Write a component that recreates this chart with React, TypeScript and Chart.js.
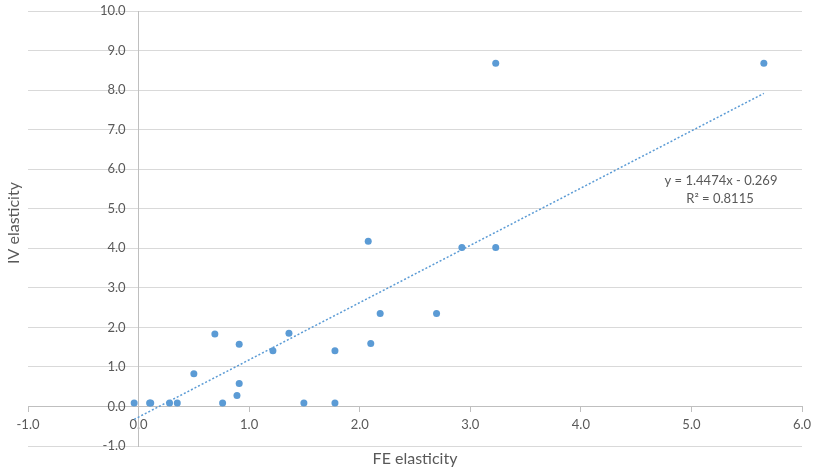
import React, { useEffect, useRef } from "react";
import { Chart, registerables } from "chart.js";

Chart.register(...registerables);

const feElasticity = [-0.04, 0.1, 0.11, 0.28, 0.35, 0.5, 0.69, 0.76, 0.89, 0.91, 0.91, 1.215, 1.36, 1.495, 1.776, 1.776, 2.077, 2.1, 2.185, 2.695, 2.924, 3.23, 3.23, 5.655];
const ivElasticity = [0.09, 0.09, 0.09, 0.09, 0.09, 0.83, 1.83, 0.09, 0.28, 1.57, 0.58, 1.41, 1.85, 0.09, 1.41, 0.09, 4.18, 1.59, 2.35, 2.35, 4.02, 4.02, 8.68, 8.68];

const trendSlope = 1.4474;
const trendIntercept = -0.269;
const trendEquation = "y = 1.4474x - 0.269";
const trendR2 = "R² = 0.8115";

const xTitle = "FE elasticity";
const yTitle = "IV elasticity";

const xRange = [-1, 6];
const yRange = [-1, 10];

const BLUE = "#5B9BD5";
const TEXT = "#595959";
const GRID = "#d9d9d9";
const AXIS = "#bfbfbf";
const FONT = "Lato, 'Open Sans', sans-serif";

export default function App() {
  const ref = useRef<HTMLCanvasElement>(null);

  useEffect(() => {
    if (!ref.current) return;
    const points = feElasticity.map((x, i) => ({ x, y: ivElasticity[i] }));
    const lo = Math.min(...feElasticity);
    const hi = Math.max(...feElasticity);
    const trend = [
      { x: lo, y: trendSlope * lo + trendIntercept },
      { x: hi, y: trendSlope * hi + trendIntercept },
    ];

    const overlay = {
      id: "overlay",
      afterDraw(chart: any) {
        const { ctx, chartArea } = chart;
        const xs = chart.scales.x;
        const ys = chart.scales.y;
        ctx.save();
        ctx.fillStyle = TEXT;
        ctx.font = `13px ${FONT}`;
        ctx.textAlign = "right";
        ctx.textBaseline = "middle";
        const x0 = xs.getPixelForValue(0);
        ys.ticks.forEach((t: any) => {
          ctx.fillText(Number(t.value).toFixed(1), x0 - 13, ys.getPixelForValue(t.value));
        });
        ctx.textAlign = "center";
        ctx.fillText(trendEquation, 721, 181);
        ctx.fillText(trendR2, 720, 199);
        ctx.font = `16px ${FONT}`;
        ctx.fillText(xTitle, (chartArea.left + chartArea.right) / 2, 459);
        ctx.translate(14, 223);
        ctx.rotate(-Math.PI / 2);
        ctx.fillText(yTitle, 0, 0);
        ctx.restore();
      },
    };

    const chart = new Chart(ref.current, {
      type: "scatter",
      data: {
        datasets: [
          {
            type: "line",
            data: trend,
            borderColor: BLUE,
            borderWidth: 1.5,
            borderDash: [2, 2],
            pointRadius: 0,
            fill: false,
            order: 2,
          } as any,
          {
            data: points,
            backgroundColor: BLUE,
            borderWidth: 0,
            pointRadius: 3.5,
            order: 1,
          },
        ],
      },
      options: {
        animation: false,
        responsive: false,
        layout: { padding: { left: 28, right: 11, top: 11, bottom: 25 } },
        plugins: { legend: { display: false }, tooltip: { enabled: false } },
        scales: {
          x: {
            type: "linear",
            position: { y: 0 } as any,
            min: xRange[0],
            max: xRange[1],
            afterFit: (s: any) => {
              s.paddingLeft = 0;
              s.paddingRight = 0;
            },
            ticks: {
              stepSize: 1,
              color: TEXT,
              font: { family: FONT, size: 13 },
              padding: 6,
              callback: (v: any) => Number(v).toFixed(1),
            },
            grid: { drawOnChartArea: false, drawTicks: true, tickLength: 5, color: AXIS },
            border: { display: true, color: AXIS },
          },
          y: {
            type: "linear",
            position: { x: 0 } as any,
            min: yRange[0],
            max: yRange[1],
            afterFit: (s: any) => {
              s.paddingTop = 0;
              s.paddingBottom = 0;
            },
            ticks: { stepSize: 1, display: false },
            grid: { drawOnChartArea: true, drawTicks: false, color: (c: any) => (c.tick && c.tick.value === 0 ? AXIS : GRID) },
            border: { display: true, color: AXIS },
          },
        },
      },
      plugins: [overlay],
    });
    return () => chart.destroy();
  }, []);

  return (
    <div style={{ position: "fixed", left: 0, top: 0, width: 813, height: 471, background: "#fff" }}>
      <canvas ref={ref} width={813} height={471} style={{ width: 813, height: 471 }} />
    </div>
  );
}
